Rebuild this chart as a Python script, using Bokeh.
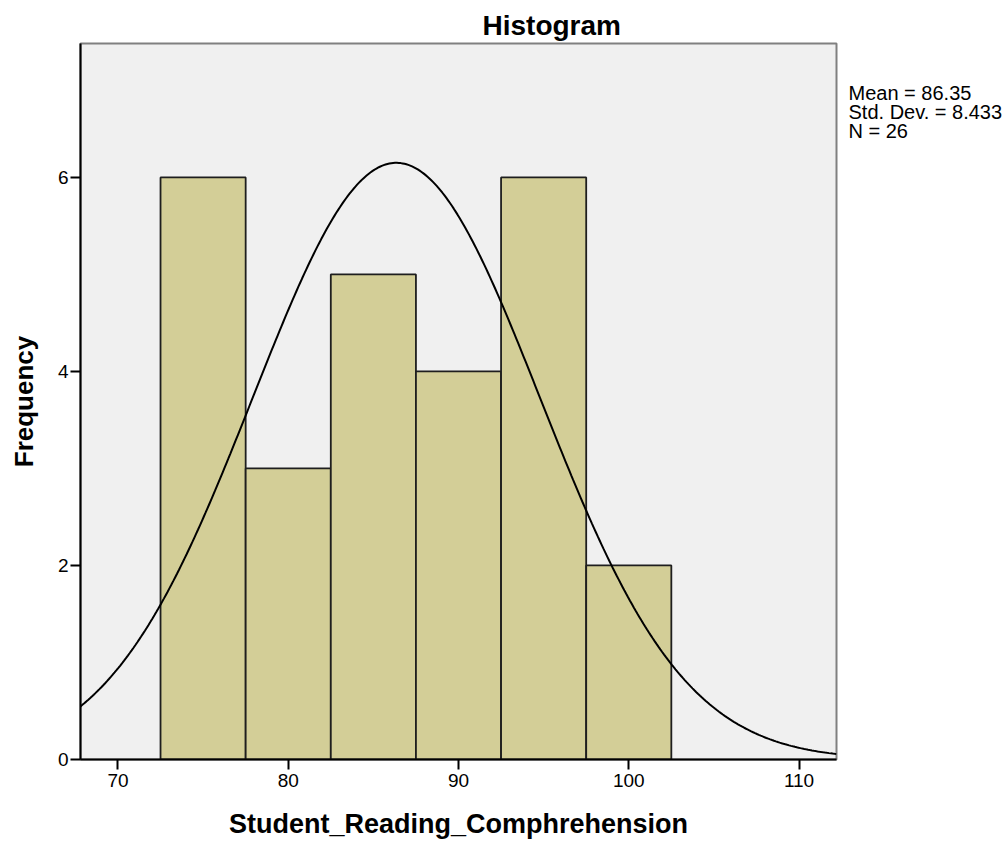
import numpy as np
from bokeh.plotting import figure
from bokeh.layouts import row
from bokeh.models import FixedTicker, Range1d
from bokeh.core.properties import value
from bokeh.embed import file_html
from bokeh.resources import INLINE

# ---- data ----
bin_edges = [72.5, 77.5, 82.5, 87.5, 92.5, 97.5, 102.5]
counts = [6, 3, 5, 4, 6, 2]
mean = 86.35
std_dev = 8.433
n_obs = 26
x_ticks = [70, 80, 90, 100, 110]
y_ticks = [0, 2, 4, 6]
x_lo, x_hi = 67.8, 112.2
y_lo, y_hi = 0, 7.38
title_text = "Histogram"
x_label = "Student_Reading_Comphrehension"
y_label = "Frequency"
stats_lines = ["Mean = 86.35", "Std. Dev. = 8.433", "N = 26"]

FONT = "Liberation Sans"
H = 841
W_MAIN = 840
W_SIDE = 1002 - W_MAIN

p = figure(width=W_MAIN, height=H, output_backend="svg", toolbar_location=None,
           x_range=Range1d(x_lo, x_hi), y_range=Range1d(y_lo, y_hi),
           min_border_left=80, min_border_right=4, min_border_top=43,
           min_border_bottom=81, title=title_text)
p.background_fill_color = "#F0F0F0"
p.border_fill_color = "white"
p.outline_line_color = "#808080"
p.outline_line_width = 2
p.xgrid.visible = False
p.ygrid.visible = False

p.title.text_font = FONT
p.title.text_font_size = "28px"
p.title.text_font_style = "bold"
p.title.text_color = "black"
p.title.align = "left"
p.title.offset = 402
p.title.standoff = 6

# bars
p.quad(left=bin_edges[:-1], right=bin_edges[1:], top=counts, bottom=0,
       fill_color="#D3CE97", line_color="#1E1E1E", line_width=1.8)

# normal curve from stated mean / sd / N
bw = bin_edges[1] - bin_edges[0]
xs = np.linspace(x_lo, x_hi, 400)
ys = n_obs * bw * np.exp(-0.5 * ((xs - mean) / std_dev) ** 2) / (std_dev * np.sqrt(2 * np.pi))
p.line(xs, ys, line_color="black", line_width=2)

for ax in (p.xaxis[0], p.yaxis[0]):
    ax.axis_line_color = "black"
    ax.axis_line_width = 2
    ax.major_tick_line_color = "black"
    ax.major_tick_line_width = 2
    ax.major_tick_out = 10
    ax.major_tick_in = 0
    ax.minor_tick_out = 0
    ax.minor_tick_in = 0
    ax.major_label_text_font = FONT
    ax.major_label_text_font_size = "19px"
    ax.major_label_text_color = "black"
    ax.axis_label_text_font = FONT
    ax.axis_label_text_font_style = "bold"
    ax.axis_label_text_color = "black"
p.xaxis.ticker = FixedTicker(ticks=x_ticks)
p.yaxis.ticker = FixedTicker(ticks=y_ticks)
p.xaxis.major_label_standoff = 4
p.yaxis.major_label_standoff = 2
p.xaxis.axis_label = x_label
p.xaxis.axis_label_text_font_size = "27px"
p.xaxis.axis_label_standoff = 19
p.yaxis.axis_label = y_label
p.yaxis.axis_label_text_font_size = "26px"
p.yaxis.axis_label_standoff = 16

# side panel with summary statistics (shares the main y scale)
s = figure(width=W_SIDE, height=H, output_backend="svg", toolbar_location=None,
           x_range=Range1d(0, W_SIDE), y_range=p.y_range,
           x_axis_location=None, y_axis_location=None,
           min_border=0, min_border_left=0, min_border_right=0,
           min_border_top=43, min_border_bottom=81, title=None)
s.grid.visible = False
s.outline_line_color = None
s.background_fill_color = "white"
s.border_fill_color = "white"
s.text(x=[8] * len(stats_lines), y=[y_hi] * len(stats_lines),
       y_offset=[38 + 19 * i for i in range(len(stats_lines))],
       text=stats_lines, text_font=value(FONT), text_font_size="20px",
       text_align="left", text_baseline="top", text_color="black")

layout = row(p, s, spacing=0)
open("out.html", "w").write(file_html(layout, INLINE))
